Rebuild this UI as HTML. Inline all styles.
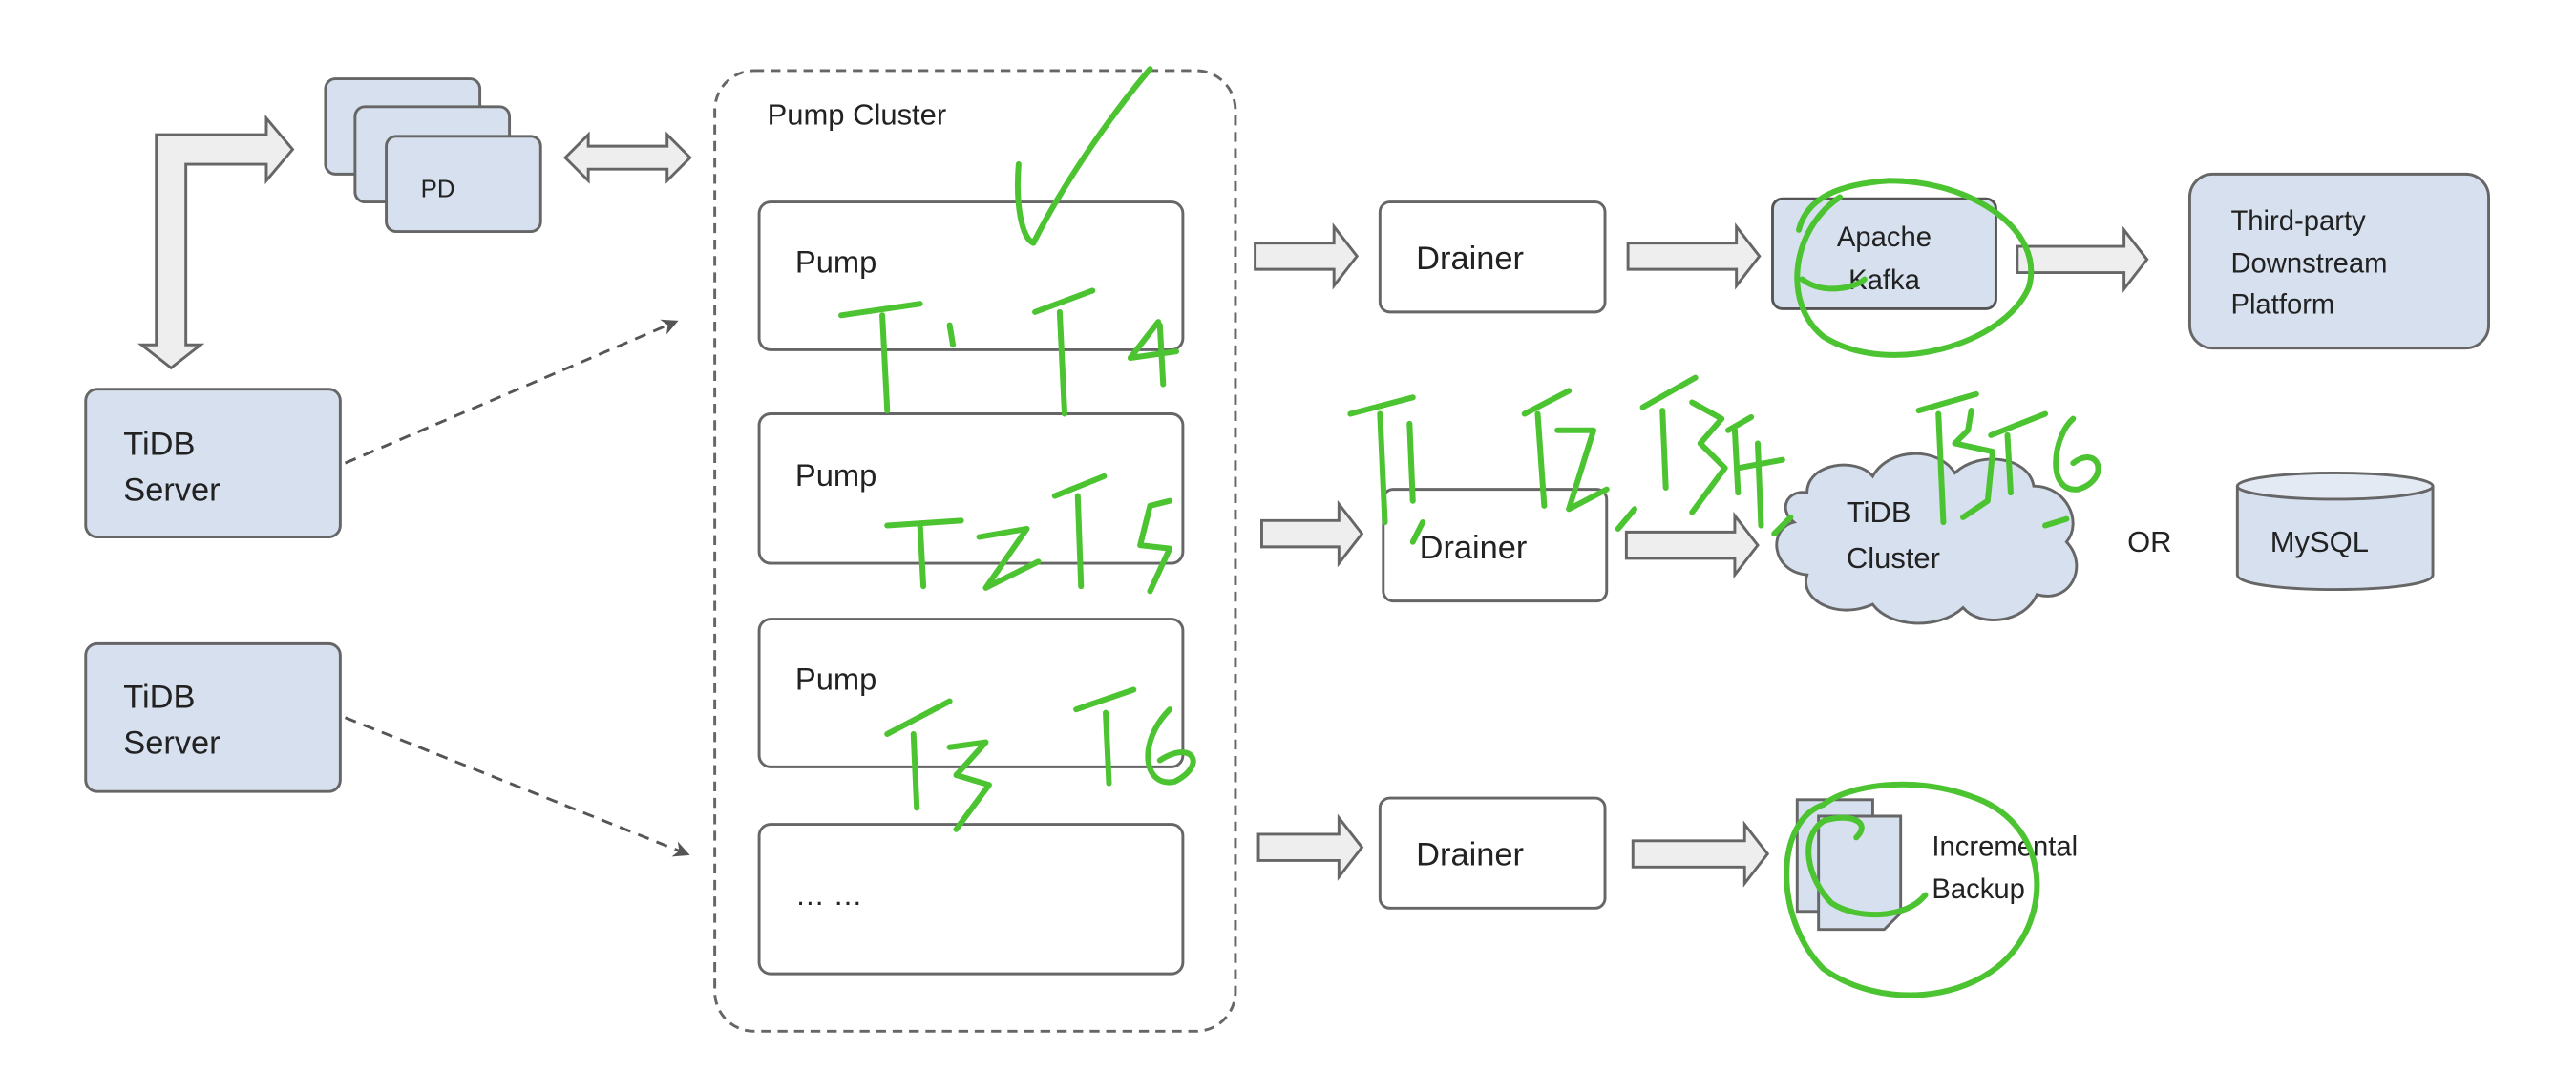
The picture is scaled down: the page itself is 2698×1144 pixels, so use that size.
<!DOCTYPE html>
<html><head><meta charset="utf-8"><style>
html,body{margin:0;padding:0;background:#fff;width:2698px;height:1144px;overflow:hidden}
svg{display:block}
text{font-family:"Liberation Sans",sans-serif;fill:#222}
</style></head><body>
<svg width="2698" height="1144" viewBox="0 0 1568 665" xmlns="http://www.w3.org/2000/svg">
<defs>
<marker id="ah" markerWidth="10" markerHeight="10" refX="8" refY="5" orient="auto" markerUnits="userSpaceOnUse"><path d="M0,0 L10,5 L0,10 L3,5 z" fill="#555"/></marker>
</defs>
<rect width="1568" height="665" fill="#fff"/>
<g stroke="#666" stroke-width="1.7">
<path d="M95,82 L162,82 L162,72 L178,91 L162,110 L162,100 L113,100 L113,210 L122,210 L104,224 L86,210 L95,210 Z" fill="#eee"/>
<rect x="198" y="48" width="94" height="58" rx="6" fill="#d6e0ee"/>
<rect x="216" y="65" width="94" height="58" rx="6" fill="#d6e0ee"/>
<rect x="235" y="83" width="94" height="58" rx="6" fill="#d6e0ee"/>
<path d="M344,96 L358,82 L358,89 L406,89 L406,82 L420,96 L406,110 L406,103 L358,103 L358,110 Z" fill="#eee"/>
<rect x="435" y="43" width="317" height="585" rx="24" fill="none" stroke-dasharray="6,4"/>
<rect x="462" y="123" width="258" height="90" rx="7" fill="#fff"/>
<rect x="462" y="252" width="258" height="91" rx="7" fill="#fff"/>
<rect x="462" y="377" width="258" height="90" rx="7" fill="#fff"/>
<rect x="462" y="502" width="258" height="91" rx="7" fill="#fff"/>
<rect x="52" y="237" width="155" height="90" rx="7" fill="#d6e0ee"/>
<rect x="52" y="392" width="155" height="90" rx="7" fill="#d6e0ee"/>
<rect x="840" y="123" width="137" height="67" rx="6" fill="#fff"/>
<rect x="842" y="298" width="136" height="68" rx="6" fill="#fff"/>
<rect x="840" y="486" width="137" height="67" rx="6" fill="#fff"/>
<path d="M764,148 L812,148 L812,138 L826,156 L812,174 L812,164 L764,164 Z" fill="#eee"/>
<path d="M768,317 L815,317 L815,307 L829,325 L815,343 L815,333 L768,333 Z" fill="#eee"/>
<path d="M766,508 L815,508 L815,498 L829,516 L815,534 L815,524 L766,524 Z" fill="#eee"/>
<path d="M991,148 L1057,148 L1057,138 L1071,156 L1057,174 L1057,164 L991,164 Z" fill="#eee"/>
<path d="M990,324 L1056,324 L1056,314 L1070,332 L1056,350 L1056,340 L990,340 Z" fill="#eee"/>
<path d="M994,512 L1062,512 L1062,502 L1076,520 L1062,538 L1062,528 L994,528 Z" fill="#eee"/>
<path d="M1228,150 L1293,150 L1293,140 L1307,158 L1293,176 L1293,166 L1228,166 Z" fill="#eee"/>
<rect x="1079" y="121" width="136" height="67" rx="6" fill="#d6e0ee" stroke="#555"/>
<rect x="1333" y="106" width="182" height="106" rx="14" fill="#d6e0ee"/>
<path d="M1100,300 C1100,282 1130,278 1140,290 C1150,272 1180,272 1190,288 C1205,274 1235,278 1238,296 C1258,296 1268,318 1258,330 C1272,345 1260,368 1240,362 C1232,380 1205,382 1195,370 C1180,384 1150,382 1140,368 C1118,378 1095,365 1100,350 C1078,348 1076,322 1092,318 C1082,310 1088,298 1100,300 Z" fill="#d6e0ee"/>
<path d="M1362,296 L1362,350 C1362,362 1481,362 1481,350 L1481,296" fill="#d6e0ee"/>
<ellipse cx="1421.5" cy="296" rx="59.5" ry="8" fill="#e4eaf3"/>
<rect x="1094" y="487" width="46" height="68" fill="#d6e0ee"/>
<path d="M1107,497 L1157,497 L1157,556 L1147,566 L1107,566 Z" fill="#d6e0ee"/>
</g>
<line x1="210" y1="282" x2="411" y2="196" stroke="#555" stroke-width="1.7" stroke-dasharray="7,5" marker-end="url(#ah)"/>
<line x1="210" y1="437" x2="418" y2="520" stroke="#555" stroke-width="1.7" stroke-dasharray="7,5" marker-end="url(#ah)"/>
<text x="256" y="120" font-size="15">PD</text>
<text x="467" y="76" font-size="18">Pump Cluster</text>
<text x="484" y="166" font-size="19">Pump</text>
<text x="484" y="296" font-size="19">Pump</text>
<text x="484" y="420" font-size="19">Pump</text>
<text x="484" y="551" font-size="18">… …</text>
<text x="75" y="277" font-size="20">TiDB</text>
<text x="75" y="305" font-size="20">Server</text>
<text x="75" y="431" font-size="20">TiDB</text>
<text x="75" y="459" font-size="20">Server</text>
<text x="862" y="164" font-size="20">Drainer</text>
<text x="864" y="340" font-size="20">Drainer</text>
<text x="862" y="527" font-size="20">Drainer</text>
<text x="1147" y="150" font-size="17" text-anchor="middle" fill="#333">Apache</text>
<text x="1147" y="176" font-size="17" text-anchor="middle" fill="#333">Kafka</text>
<text x="1358" y="140" font-size="17">Third-party</text>
<text x="1358" y="166" font-size="17">Downstream</text>
<text x="1358" y="191" font-size="17">Platform</text>
<text x="1124" y="318" font-size="18" fill="#333">TiDB</text>
<text x="1124" y="346" font-size="18" fill="#333">Cluster</text>
<text x="1295" y="336" font-size="18" fill="#333">OR</text>
<text x="1382" y="336" font-size="18">MySQL</text>
<text x="1176" y="521" font-size="17" fill="#333">Incremental</text>
<text x="1176" y="547" font-size="17" fill="#333">Backup</text>
<g fill="none" stroke="#4cc431" stroke-width="3.5" stroke-linecap="round" stroke-linejoin="round">
<path d="M620,100 C618,125 622,145 629,148 C648,110 678,68 700,42"/>
<path d="M512,192 L560,185 M537,192 L540,250 M578,198 L580,210"/>
<path d="M630,190 L665,177 M645,190 L648,252 M705,196 L688,218 L716,214 M706,198 L708,234"/>
<path d="M540,320 L585,317 M560,320 L562,357 M596,327 L625,322 L600,358 L632,342"/>
<path d="M642,302 L672,290 M656,302 L658,357 M712,305 L700,308 L694,332 L712,334 L700,360"/>
<path d="M540,447 L578,427 M556,447 L558,492 M578,455 L600,452 L582,472 L602,478 L582,505"/>
<path d="M655,432 L690,420 M673,434 L675,477 M712,432 C692,452 696,480 715,476 C735,466 726,450 706,463"/>
<path d="M1120,120 C1090,140 1085,185 1110,205 C1150,230 1220,210 1235,175 C1245,140 1200,110 1150,110 C1120,112 1100,120 1095,140"/>
<path d="M1097,170 C1110,180 1130,175 1135,170"/>
<path d="M1172,545 C1160,560 1130,560 1115,550 C1100,535 1095,510 1110,500 C1125,495 1140,500 1130,510 M1110,490 C1080,500 1080,560 1110,590 C1145,615 1200,610 1225,580 C1250,550 1245,500 1200,485 C1165,472 1125,478 1110,490"/>
<path d="M822,252 L860,242 M840,252 L843,318 M858,258 L860,305"/>
<path d="M860,330 L866,318"/>
<path d="M928,252 L955,238 M936,252 L940,308 M948,262 L970,262 L955,310 L978,298"/>
<path d="M1000,248 L1032,230 M1012,250 L1014,297 M1030,245 L1048,255 L1035,270 L1050,285 L1030,312 M985,322 L995,310"/>
<path d="M1052,262 L1066,254 M1056,262 L1058,300 M1058,285 L1085,280 M1070,270 L1072,320"/>
<path d="M1080,325 L1090,315"/>
<path d="M1168,250 L1203,240 M1180,252 L1183,318 M1200,250 L1198,262 L1190,270 L1213,275 L1210,305 L1195,315"/>
<path d="M1245,320 L1258,316"/>
<path d="M1212,265 L1245,252 M1222,265 L1224,300 M1262,255 C1250,265 1245,300 1265,298 C1285,292 1278,270 1262,282"/>
</g>
</svg>
</body></html>
